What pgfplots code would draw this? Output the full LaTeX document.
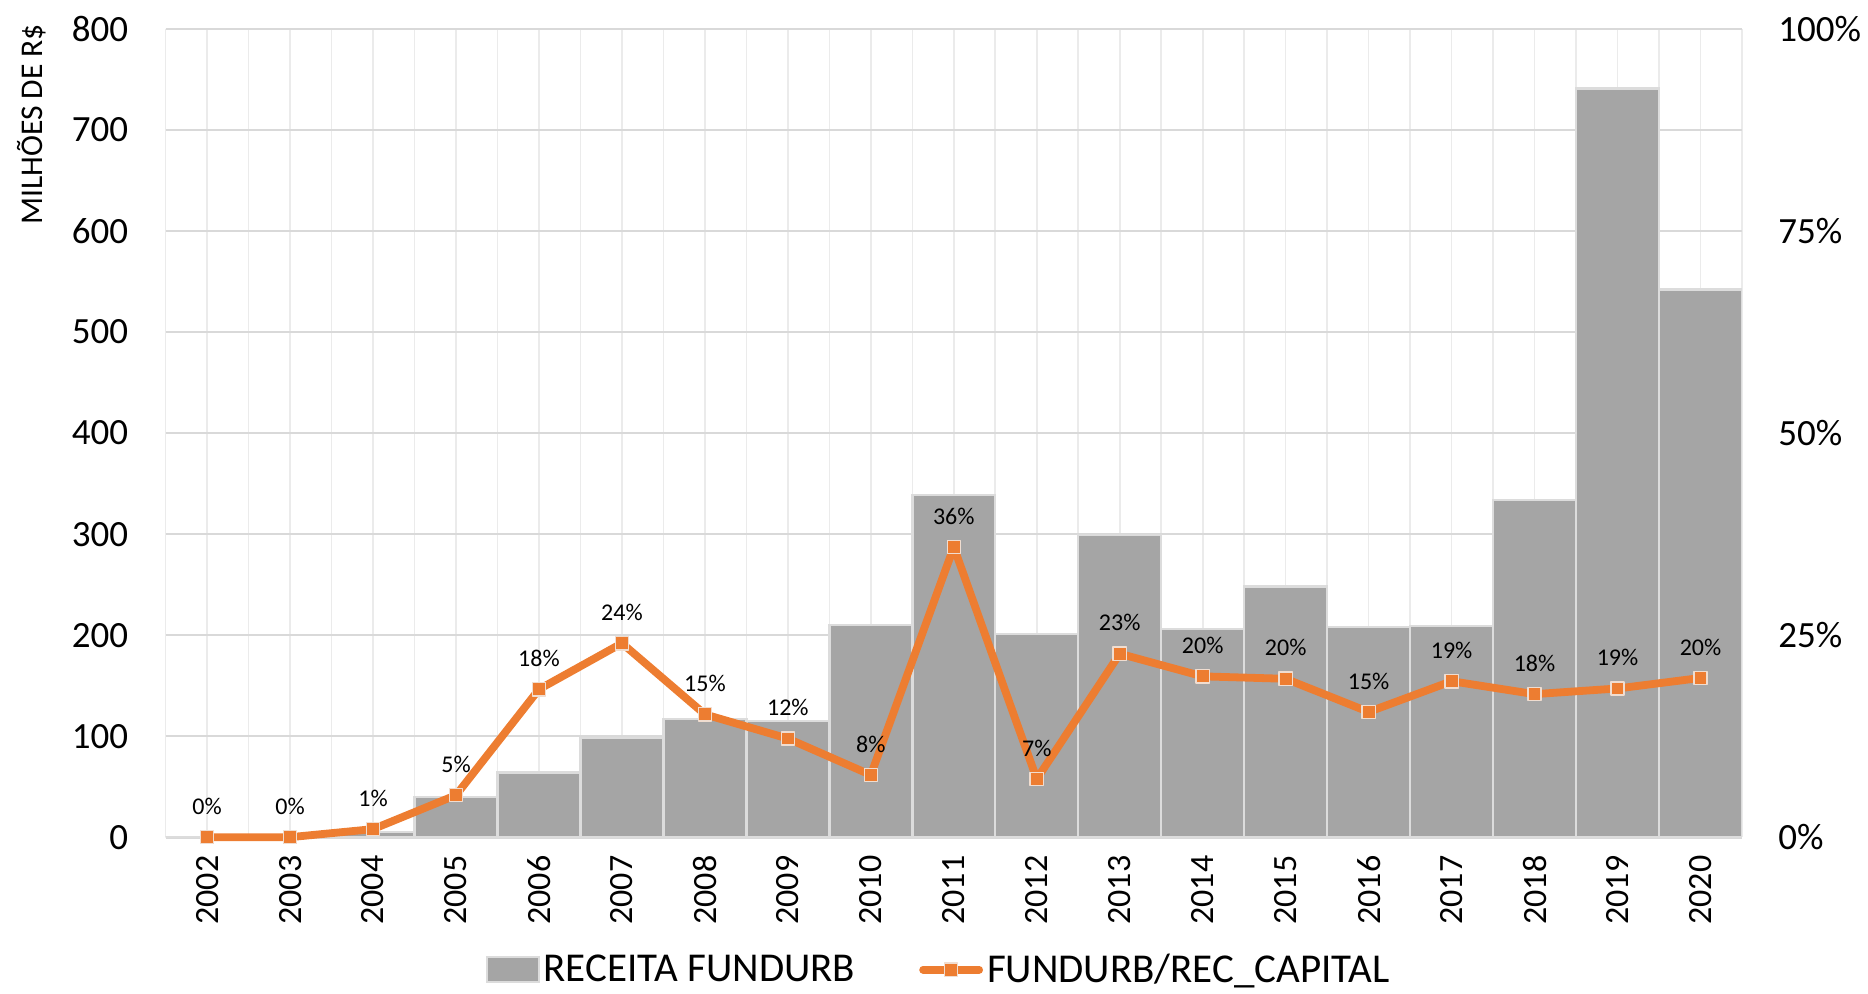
\documentclass[border=0pt]{standalone}
\usepackage{fontspec}
\setmainfont{Carlito}
\usepackage{pgfplots}
\pgfplotsset{compat=1.18}
\definecolor{barfill}{HTML}{A5A5A5}
\definecolor{baredge}{HTML}{DCDCDC}
\definecolor{lineor}{HTML}{ED7D31}
\definecolor{gridh}{HTML}{D9D9D9}
\definecolor{gridv}{HTML}{EBEBEB}
\definecolor{markedge}{HTML}{F0DDD0}
\begin{document}
\begin{tikzpicture}
\path[use as bounding box] (-82.8pt,-78pt) rectangle (851pt,418.5pt);
\begin{axis}[
  at={(0,0)}, anchor=south west,
  width=788pt, height=404pt, scale only axis,
  xmin=-0.5, xmax=18.5, ymin=0, ymax=800,
  xtick={0,...,18},
  xticklabels={2002,2003,2004,2005,2006,2007,2008,2009,2010,2011,2012,2013,2014,2015,2016,2017,2018,2019,2020},
  minor xtick={-0.5,0.5,...,18.5},
  ytick={0,100,...,800},
  xmajorgrids, xminorgrids, ymajorgrids,
  major x grid style={gridv, line width=0.8pt},
  minor x grid style={gridv, line width=0.8pt},
  major y grid style={gridh, line width=1pt},
  axis x line=bottom, axis y line=left,
  x axis line style={gridh, line width=1.5pt, -},
  y axis line style={draw=none, -},
  tick style={draw=none}, major tick length=0pt, minor tick length=0pt,
  /pgf/number format/assume math mode=true,
  yticklabel style={font=\fontsize{18.5}{20}\selectfont, inner sep=0pt, anchor=east},
  yticklabel shift=18.5pt,
  xticklabel style={font=\fontsize{17}{19}\selectfont, rotate=90, anchor=east, inner sep=0pt},
  xticklabel shift=9pt,
  ylabel={MILHÕES DE R\$},
  ylabel style={at={(axis description cs:-0.0848,0.882)}, anchor=center, font=\fontsize{15.8}{17}\selectfont},
]
\addplot[ybar, bar width=1, fill=barfill, draw=baredge, line width=1.2pt] coordinates {
(0,0) (1,0) (2,5) (3,40) (4,64) (5,98) (6,117) (7,115) (8,210) (9,339)
(10,201) (11,299) (12,206) (13,248) (14,208) (15,209) (16,334) (17,741) (18,542)
};
\end{axis}
\begin{axis}[
  at={(0,0)}, anchor=south west,
  width=788pt, height=404pt, scale only axis,
  xmin=-0.5, xmax=18.5, ymin=0, ymax=100,
  axis x line=none, axis y line*=right,
  y axis line style={draw=none, -},
  tick style={draw=none}, major tick length=0pt,
  ytick={0,25,50,75,100},
  yticklabels={0\%,25\%,50\%,75\%,100\%},
  yticklabel style={font=\fontsize{18.5}{20}\selectfont, inner sep=0pt, anchor=west},
  yticklabel shift=18pt,
  clip=false,
  legend style={at={(axis description cs:0.491,-0.164)}, anchor=center, draw=none, fill=none,
    font=\fontsize{20.5}{23}\selectfont, inner sep=0pt,
    /tikz/every even column/.append style={column sep=30pt}},
  legend columns=2,
  legend cell align=left,
]
\addlegendimage{legend image code/.code={\draw[fill=barfill, draw=baredge, line width=1pt] (0pt,-6.2pt) rectangle (26pt,6.2pt);}}
\addlegendentry{RECEITA FUNDURB}
\addplot[lineor, line width=3.9pt, line join=round, mark=square*, mark size=3.3pt,
  mark options={fill=lineor, draw=markedge, line width=0.7pt},
  nodes near coords, point meta=explicit symbolic,
  nodes near coords style={font=\fontsize{12}{14}\selectfont, text=black, anchor=south, inner sep=0pt, yshift=11pt},
  legend image code/.code={\draw[lineor, line width=3.9pt, line cap=round] (0pt,0pt) -- (28pt,0pt);
    \draw[fill=lineor, draw=markedge, line width=0.7pt] (10.7pt,-3.3pt) rectangle (17.3pt,3.3pt);}
] coordinates {
(0,0) [0\%] (1,0) [0\%] (2,1.0) [1\%] (3,5.2) [5\%] (4,18.3) [18\%] (5,24.0) [24\%]
(6,15.2) [15\%] (7,12.2) [12\%] (8,7.7) [8\%] (9,35.9) [36\%] (10,7.2) [7\%]
(11,22.7) [23\%] (12,19.9) [20\%] (13,19.6) [20\%] (14,15.5) [15\%] (15,19.3) [19\%]
(16,17.7) [18\%] (17,18.4) [19\%] (18,19.7) [20\%]
};
\addlegendentry{FUNDURB/REC\_CAPITAL}
\end{axis}
\end{tikzpicture}
\end{document}
